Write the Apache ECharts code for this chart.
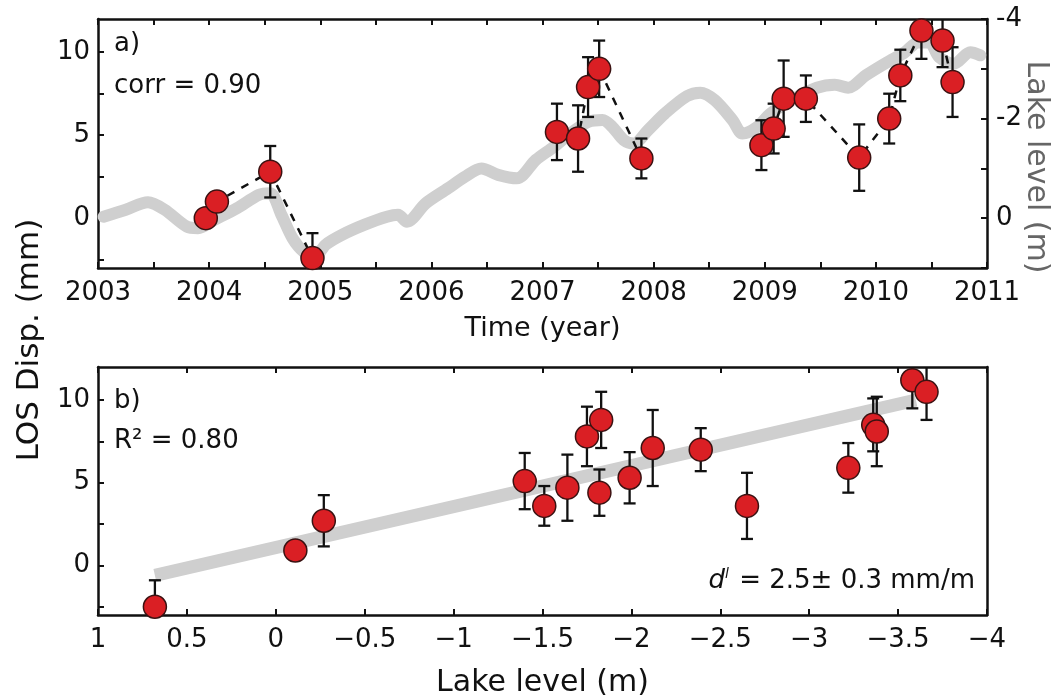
<!DOCTYPE html>
<html>
<head>
<meta charset="utf-8">
<script src="https://cdn.jsdelivr.net/npm/echarts@6/dist/echarts.min.js"></script>
<style>
  html, body { margin: 0; padding: 0; background: #fff; }
  #chart { width: 1064px; height: 700px; }
</style>
</head>
<body>
<div id="chart"></div>
<script>
// panel a) LOS displacement per acquisition (mm), with 1-sigma error
const obsTime = [2003.97, 2004.07, 2004.55, 2004.93, 2007.13, 2007.32, 2007.41, 2007.51, 2007.89,
                 2008.97, 2009.08, 2009.17, 2009.37, 2009.85, 2010.12, 2010.22, 2010.41, 2010.60, 2010.69];
const obsLos  = [0.0, 1.0, 2.8, -2.4, 5.2, 4.8, 7.9, 9.0, 3.6,
                 4.4, 5.4, 7.2, 7.2, 3.65, 6.0, 8.6, 11.3, 10.7, 8.2];
const obsErr  = [0, 0, 1.55, 1.5, 1.7, 2.0, 1.8, 1.7, 1.2,
                 1.5, 1.5, 2.3, 1.4, 2.0, 1.5, 1.55, 1.7, 1.6, 2.1];
// dashed link only joins points of the same group
const obsGroup = [0, 0, 0, 0, 1, 1, 1, 1, 1, 2, 2, 2, 2, 2, 2, 2, 2, 2, 2];

// lake level time series (m), right axis
const lakeTime  = [2003.05, 2003.25, 2003.45, 2003.6, 2003.8, 2003.9, 2004.05, 2004.25, 2004.45, 2004.55,
                   2004.65, 2004.75, 2004.85, 2004.95, 2005.05, 2005.2, 2005.4, 2005.6, 2005.7, 2005.78,
                   2005.95, 2006.15, 2006.3, 2006.45, 2006.6, 2006.77, 2006.94, 2007.1, 2007.25, 2007.41,
                   2007.54, 2007.63, 2007.73, 2007.82, 2007.95, 2008.1, 2008.3, 2008.42, 2008.55, 2008.71,
                   2008.8, 2008.93, 2009.05, 2009.24, 2009.47, 2009.63, 2009.75, 2009.91, 2010.1, 2010.26,
                   2010.38, 2010.48, 2010.57, 2010.7, 2010.85, 2010.94];
const lakeLevel = [-0.03, -0.17, -0.32, -0.17, 0.17, 0.20, 0.03, -0.20, -0.47, -0.50,
                   -0.07, 0.40, 0.67, 0.77, 0.53, 0.33, 0.13, -0.03, -0.07, 0.07,
                   -0.30, -0.60, -0.83, -1.00, -0.87, -0.80, -1.17, -1.43, -1.70, -1.93,
                   -1.97, -1.83, -1.57, -1.50, -1.77, -2.10, -2.45, -2.52, -2.37, -1.97,
                   -1.70, -1.83, -2.10, -2.37, -2.62, -2.68, -2.62, -2.87, -3.13, -3.33,
                   -3.53, -3.53, -3.23, -3.10, -3.33, -3.27];

// panel b) LOS displacement against lake level
const scatLevel = [0.68, -0.11, -0.27, -1.40, -1.51, -1.64, -1.75, -1.83, -1.82, -1.99,
                   -2.12, -2.39, -2.65, -3.22, -3.36, -3.38, -3.58, -3.66];
const scatLos   = [-2.5, 0.9, 2.7, 5.1, 3.6, 4.7, 7.8, 8.8, 4.4, 5.3,
                   7.1, 7.0, 3.6, 5.9, 8.5, 8.1, 11.2, 10.5];
const scatErr   = [1.6, 0, 1.55, 1.7, 1.2, 2.0, 1.8, 1.7, 1.4, 1.55,
                   2.3, 1.3, 2.0, 1.5, 1.6, 2.1, 1.7, 1.7];
// linear fit ends
const fitLevel = [0.68, -3.6];
const fitLos   = [-0.6, 10.0];

const FONT = '"DejaVu Sans", sans-serif';
const frameLine = { show: true, onZero: false, lineStyle: { color: '#111', width: 2.5 } };
const inTick = { show: true, inside: true, length: 6, lineStyle: { color: '#111', width: 2 } };
const tickLabel = { fontSize: 26, color: '#111', fontFamily: FONT };

function minus(v) {
  return v < 0 ? '\u2212' + Math.abs(v) : String(v);
}

function errorBar(params, api) {
  const x = api.value(0);
  const lo = api.coord([x, api.value(1)]);
  const hi = api.coord([x, api.value(2)]);
  const w = 6;
  const style = { stroke: '#111', lineWidth: 2.3 };
  return {
    type: 'group',
    children: [
      { type: 'line', shape: { x1: lo[0], y1: lo[1], x2: hi[0], y2: hi[1] }, style: style },
      { type: 'line', shape: { x1: lo[0] - w, y1: lo[1], x2: lo[0] + w, y2: lo[1] }, style: style },
      { type: 'line', shape: { x1: hi[0] - w, y1: hi[1], x2: hi[0] + w, y2: hi[1] }, style: style }
    ]
  };
}

// dashed link data with breaks between groups
const linkData = [];
obsTime.forEach((t, i) => {
  if (i > 0 && obsGroup[i] !== obsGroup[i - 1]) linkData.push([null, null]);
  linkData.push([t, obsLos[i]]);
});

const topErr = [];
obsTime.forEach((t, i) => {
  if (obsErr[i] > 0) topErr.push([t, obsLos[i] - obsErr[i], obsLos[i] + obsErr[i]]);
});
const botErr = [];
scatLevel.forEach((l, i) => {
  if (scatErr[i] > 0) botErr.push([l, scatLos[i] - scatErr[i], scatLos[i] + scatErr[i]]);
});

const marker = { color: '#da1f24', opacity: 1, borderColor: '#3a1212', borderWidth: 1.5 };

const option = {
  animation: false,
  backgroundColor: '#fff',
  grid: [
    { left: 98, right: 77, top: 19, height: 249 },
    { left: 98, right: 77, top: 367, height: 248 }
  ],
  xAxis: [
    {
      gridIndex: 0, type: 'value', position: 'bottom', min: 2003, max: 2011, interval: 0.5,
      axisLine: frameLine, axisTick: inTick, splitLine: { show: false },
      axisLabel: Object.assign({ margin: 12, formatter: v => Number.isInteger(v) ? String(v) : '' }, tickLabel),
      name: 'Time (year)', nameLocation: 'middle', nameGap: 47,
      nameTextStyle: { fontSize: 27, color: '#111', fontFamily: FONT }
    },
    {
      gridIndex: 0, type: 'value', position: 'top', min: 2003, max: 2011, interval: 0.5,
      axisLine: frameLine, axisTick: inTick, axisLabel: { show: false }, splitLine: { show: false }
    },
    {
      gridIndex: 1, type: 'value', position: 'bottom', min: -4, max: 1, interval: 0.5, inverse: true,
      axisLine: frameLine, axisTick: inTick, splitLine: { show: false },
      axisLabel: Object.assign({ margin: 12, formatter: minus }, tickLabel),
      name: 'Lake level (m)', nameLocation: 'middle', nameGap: 53,
      nameTextStyle: { fontSize: 30, color: '#111', fontFamily: FONT }
    },
    {
      gridIndex: 1, type: 'value', position: 'top', min: -4, max: 1, interval: 0.5, inverse: true,
      axisLine: frameLine, axisTick: inTick, axisLabel: { show: false }, splitLine: { show: false }
    }
  ],
  yAxis: [
    {
      gridIndex: 0, type: 'value', position: 'left', min: -3, max: 12,
      axisLine: frameLine, splitLine: { show: false },
      axisTick: Object.assign({ customValues: [-2.5, 0, 2.5, 5, 7.5, 10] }, inTick),
      axisLabel: Object.assign({ margin: 8, customValues: [0, 5, 10] }, tickLabel)
    },
    {
      gridIndex: 0, type: 'value', position: 'right', min: -4, max: 1, interval: 1, inverse: true,
      axisLine: frameLine, axisTick: inTick, splitLine: { show: false },
      axisLabel: Object.assign({ margin: 9, formatter: v => (v <= 0 && v % 2 === 0) ? String(v) : '' }, tickLabel)
    },
    {
      gridIndex: 1, type: 'value', position: 'left', min: -3, max: 12,
      axisLine: frameLine, splitLine: { show: false },
      axisTick: Object.assign({ customValues: [-2.5, 0, 2.5, 5, 7.5, 10] }, inTick),
      axisLabel: Object.assign({ margin: 8, customValues: [0, 5, 10] }, tickLabel)
    },
    {
      gridIndex: 1, type: 'value', position: 'right', min: -3, max: 12,
      axisLine: frameLine, axisTick: { show: false }, axisLabel: { show: false }, splitLine: { show: false }
    }
  ],
  series: [
    {
      type: 'line', xAxisIndex: 0, yAxisIndex: 1, z: 1, silent: true,
      data: lakeTime.map((t, i) => [t, lakeLevel[i]]),
      showSymbol: false, smooth: 0.3,
      lineStyle: { color: '#cfcfcf', width: 12, cap: 'round', join: 'round' }
    },
    {
      type: 'line', xAxisIndex: 0, yAxisIndex: 0, z: 2, silent: true,
      data: linkData, connectNulls: false, showSymbol: false,
      lineStyle: { color: '#111', width: 2.5, type: [8, 8] }
    },
    {
      type: 'custom', xAxisIndex: 0, yAxisIndex: 0, z: 3, clip: true,
      renderItem: errorBar, data: topErr
    },
    {
      type: 'scatter', xAxisIndex: 0, yAxisIndex: 0, z: 4,
      data: obsTime.map((t, i) => [t, obsLos[i]]),
      symbolSize: 23, itemStyle: marker
    },
    {
      type: 'line', xAxisIndex: 2, yAxisIndex: 2, z: 1, silent: true,
      data: fitLevel.map((l, i) => [l, fitLos[i]]),
      showSymbol: false, lineStyle: { color: '#cfcfcf', width: 13, cap: 'butt' }
    },
    {
      type: 'custom', xAxisIndex: 2, yAxisIndex: 2, z: 3, clip: true,
      renderItem: errorBar, data: botErr
    },
    {
      type: 'scatter', xAxisIndex: 2, yAxisIndex: 2, z: 4,
      data: scatLevel.map((l, i) => [l, scatLos[i]]),
      symbolSize: 23, itemStyle: marker
    }
  ],
  graphic: [
    { type: 'text', x: 30, y: 340, rotation: Math.PI / 2,
      style: { text: 'LOS Disp. (mm)', font: '31px ' + FONT, fill: '#111', align: 'center', verticalAlign: 'middle' } },
    { type: 'text', x: 1036, y: 167, rotation: -Math.PI / 2,
      style: { text: 'Lake level (m)', font: '30px ' + FONT, fill: '#666', align: 'center', verticalAlign: 'middle' } },
    { type: 'text', x: 114, y: 44,
      style: { text: 'a)', font: '26px ' + FONT, fill: '#111', verticalAlign: 'middle' } },
    { type: 'text', x: 114, y: 86,
      style: { text: 'corr = 0.90', font: '26px ' + FONT, fill: '#111', verticalAlign: 'middle' } },
    { type: 'text', x: 114, y: 401,
      style: { text: 'b)', font: '26px ' + FONT, fill: '#111', verticalAlign: 'middle' } },
    { type: 'text', x: 114, y: 441,
      style: { text: 'R\u00b2 = 0.80', font: '26px ' + FONT, fill: '#111', verticalAlign: 'middle' } },
    { type: 'text', x: 975, y: 581,
      style: {
        text: '{d|d}{s|l} = 2.5\u00b1 0.3 mm/m', font: '26px ' + FONT, fill: '#111',
        align: 'right', verticalAlign: 'middle',
        rich: {
          d: { fontSize: 26, fontStyle: 'italic', fontFamily: FONT, fill: '#111' },
          s: { fontSize: 14, fontStyle: 'italic', fontFamily: FONT, fill: '#111', padding: [0, 2, 14, 0] }
        }
      } }
  ]
};

const chart = echarts.init(document.getElementById('chart'));
chart.setOption(option);
</script>
</body>
</html>
